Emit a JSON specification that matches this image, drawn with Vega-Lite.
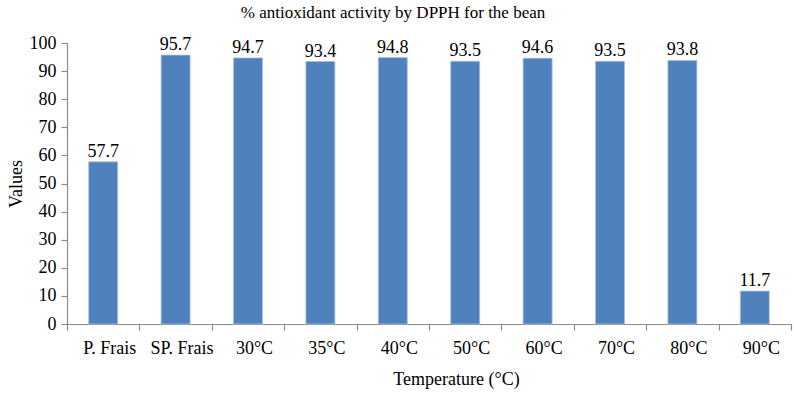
{
  "$schema": "https://vega.github.io/schema/vega-lite/v6.json",
  "autosize": "none",
  "padding": {"left": 67, "top": 43, "right": 3, "bottom": 70},
  "width": 724,
  "height": 281,
  "background": "white",
  "title": {
    "text": "% antioxidant activity by DPPH for the bean",
    "font": "Liberation Serif",
    "fontSize": 17,
    "fontWeight": "normal",
    "color": "black",
    "anchor": "middle",
    "dx": -36,
    "offset": 12
  },
  "data": {
    "values": [
      {"sample": "P. Frais", "value": 57.7},
      {"sample": "SP. Frais", "value": 95.7},
      {"sample": "30°C", "value": 94.7},
      {"sample": "35°C", "value": 93.4},
      {"sample": "40°C", "value": 94.8},
      {"sample": "50°C", "value": 93.5},
      {"sample": "60°C", "value": 94.6},
      {"sample": "70°C", "value": 93.5},
      {"sample": "80°C", "value": 93.8},
      {"sample": "90°C", "value": 11.7}
    ]
  },
  "encoding": {
    "x": {
      "field": "sample",
      "type": "nominal",
      "sort": null,
      "scale": {"paddingInner": 0, "paddingOuter": 0},
      "axis": {
        "title": "Temperature (°C)",
        "labelAngle": 0,
        "labelOffset": 6,
        "tickBand": "extent",
        "tickSize": 6,
        "labelPadding": 9,
        "titlePadding": 13,
        "titleX": 389
      }
    },
    "y": {
      "field": "value",
      "type": "quantitative",
      "scale": {"domain": [0, 100]},
      "axis": {
        "title": "Values",
        "values": [0, 10, 20, 30, 40, 50, 60, 70, 80, 90, 100],
        "tickSize": 6,
        "labelPadding": 5,
        "titlePadding": 4,
        "grid": false
      }
    }
  },
  "layer": [
    {
      "mark": {"type": "bar", "width": {"band": 0.4}, "color": "#4F81BD", "stroke": "#A7C0DE", "strokeWidth": 0.8}
    },
    {
      "mark": {"type": "text", "baseline": "alphabetic", "dy": -5, "font": "Liberation Serif", "fontSize": 18, "color": "black"},
      "encoding": {"text": {"field": "value", "type": "quantitative", "format": ".1f"}}
    }
  ],
  "config": {
    "view": {"stroke": null},
    "axis": {
      "labelFont": "Liberation Serif",
      "labelFontSize": 18,
      "labelColor": "black",
      "titleFont": "Liberation Serif",
      "titleFontSize": 18,
      "titleFontWeight": "normal",
      "titleColor": "black",
      "domainColor": "#8C8C8C",
      "tickColor": "#8C8C8C",
      "domainWidth": 1.2,
      "tickWidth": 1.2
    }
  }
}
